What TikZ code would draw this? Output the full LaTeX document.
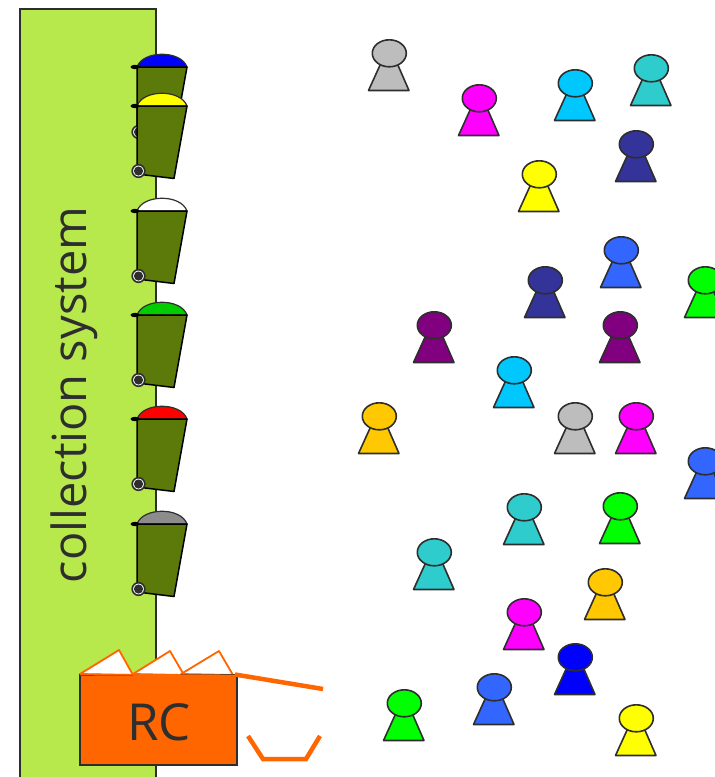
\documentclass[tikz,border=0pt]{standalone}
\usepackage{fontspec}
\setmainfont{Open Sans}
\usetikzlibrary{positioning}
\definecolor{sysgreen}{HTML}{B8E94C}
\definecolor{bingreen}{HTML}{5C7A0A}
\definecolor{rcorange}{HTML}{FF6600}
\definecolor{inkgray}{HTML}{2E2E2E}
\definecolor{pgray}{HTML}{BDBDBD}
\definecolor{pmagenta}{HTML}{FF00FF}
\definecolor{pcyan}{HTML}{00C8FF}
\definecolor{pteal}{HTML}{2ECCCC}
\definecolor{pnavy}{HTML}{333399}
\definecolor{pyellow}{HTML}{FFFF00}
\definecolor{pblue}{HTML}{3366FF}
\definecolor{pgreen}{HTML}{00FF00}
\definecolor{ppurple}{HTML}{800080}
\definecolor{porange}{HTML}{FFC800}
\definecolor{pdeep}{HTML}{0000FF}
\definecolor{lidgreen}{HTML}{00CC00}
\definecolor{lidgray}{HTML}{8C8C8C}
\tikzset{
  person/.style={draw=inkgray, line width=1.6pt, line join=round},
  flap/.style={draw=rcorange, fill=white, line width=1.8pt, line join=round},
  arm/.style={draw=rcorange, line width=4.5pt},
}
\newcommand{\person}[3]{
  \draw [person, fill=#3] (#1-20.5, #2+37.5) -- (#1-8, #2+10) -- (#1+8, #2+10) -- (#1+20, #2+37.5) -- cycle;
  \draw [person, fill=#3] (#1+0.3, #2+0.3) ellipse (17 and 13.5);
}
\newcommand{\wastebin}[2]{
  \draw [inkgray, line width=1.2pt, fill=#2] (137, #1) .. controls (143, #1-17) and (181, #1-17) .. (187, #1) -- cycle;
  \draw [black, line width=1.5pt, line join=round, fill=bingreen] (137, #1) -- (187, #1) -- (174, #1+72.5) -- (137, #1+68) -- cycle;
  \fill [black] (135, #1) ellipse (4.5 and 2.2);
  \draw [inkgray, fill=white, line width=1.6pt] (138.5, #1+65) circle (6.3);
  \fill [inkgray] (138.5, #1+65) circle (4.6);
}
\begin{document}
\begin{tikzpicture}[x=1pt, y=-1pt]
  \useasboundingbox (0, 0) rectangle (715, 777);
  \clip (0, 0) rectangle (715, 777);

  % collection side
  \draw [inkgray, fill=sysgreen, line width=1.6pt] (20, 9) rectangle (156, 790);
  \node (system) [rotate=90, text=inkgray, font=\fontsize{47}{47}\selectfont] at (74, 395) {collection system};

  \wastebin{67}{pdeep}
  \wastebin{106}{pyellow}
  \wastebin{211}{white}
  \wastebin{315}{lidgreen}
  \wastebin{419}{red}
  \wastebin{524}{lidgray}

  % vehicle
  \draw [flap] (80, 674) -- (119, 650) -- (133, 675) -- cycle;
  \draw [flap] (133, 674) -- (170, 651) -- (184, 675) -- cycle;
  \draw [flap] (181, 674) -- (219, 651) -- (233, 675) -- cycle;
  \draw [inkgray, fill=rcorange, line width=1.6pt] (80, 675) rectangle (237, 765);
  \draw [rcorange, line width=1.8pt] (80, 674.5) -- (237, 675.5);
  \node (rc) [text=inkgray, font=\fontsize{51}{51}\selectfont] at (159, 722) {RC};
  \draw [arm] (235, 674.5) -- (323, 689);
  \draw [arm] (248, 736) -- (263, 759) -- (306, 759) -- (320, 736);

  % people
  \foreach \px/\py/\pc in {389/53/pgray, 479/98/pmagenta, 575/83/pcyan, 651/68/pteal,
      636/144/pnavy, 539/174/pyellow, 621/250/pblue, 545/280/pnavy, 705/280/pgreen,
      434/325/ppurple, 620/325/ppurple, 514/370/pcyan, 379/416/porange, 575/416/pgray,
      636/416/pmagenta, 705/461/pblue, 524/507/pteal, 620/506/pgreen, 434/552/pteal,
      605/582/porange, 524/612/pmagenta, 575/657/pdeep, 494/687/pblue, 404/703/pgreen,
      636/718/pyellow}
    \person{\px}{\py}{\pc};
\end{tikzpicture}
\end{document}
